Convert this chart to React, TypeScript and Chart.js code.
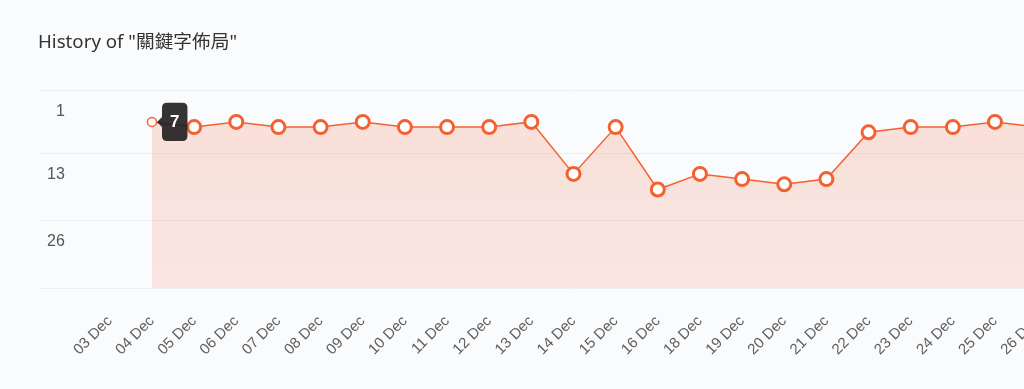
import { useEffect, useRef } from 'react';
import { Chart, registerables } from 'chart.js';

Chart.register(...registerables);

const chartTitle = 'History of "關鍵字佈局"';

const dateLabels: string[] = [
  '03 Dec', '04 Dec', '05 Dec', '06 Dec', '07 Dec', '08 Dec', '09 Dec', '10 Dec',
  '11 Dec', '12 Dec', '13 Dec', '14 Dec', '15 Dec', '16 Dec', '18 Dec', '19 Dec',
  '20 Dec', '21 Dec', '22 Dec', '23 Dec', '24 Dec', '25 Dec', '26 Dec',
];

const rankValues: (number | null)[] = [
  null, 7, 8, 7, 8, 8, 7, 8,
  8, 8, 7, 17, 8, 20, 17, 18,
  19, 18, 9, 8, 8, 7, 8,
];

const yTickValues: number[] = [1, 13, 26, 39];
const yTickLabels: string[] = ['1', '13', '26', ''];

const activeIndex = 1;

const LINE = '#f4602f';
const GRID = '#eceef2';
const BG = '#fafbfd';
const FONT = '"Liberation Sans", Arial, Helvetica, sans-serif';

const CANVAS_W = 1100;
const CANVAS_H = 373;

export default function App() {
  const canvasRef = useRef<HTMLCanvasElement | null>(null);

  useEffect(() => {
    document.body.style.background = BG;
    document.documentElement.style.background = BG;
    document.documentElement.style.overflow = 'hidden';
    const canvas = canvasRef.current;
    if (!canvas) return;

    const chart = new Chart(canvas, {
      type: 'line',
      data: {
        labels: dateLabels,
        datasets: [
          {
            data: rankValues,
            borderColor: LINE,
            borderWidth: 1.5,
            fill: 'start',
            backgroundColor: (c: any) => {
              const area = c.chart.chartArea;
              if (!area) return 'rgba(244,96,47,0.16)';
              const g = c.chart.ctx.createLinearGradient(0, area.top, 0, area.bottom);
              g.addColorStop(0, 'rgba(244,96,47,0.18)');
              g.addColorStop(1, 'rgba(244,96,47,0.13)');
              return g;
            },
            pointBackgroundColor: '#ffffff',
            pointBorderColor: LINE,
            pointRadius: (c: any) => (c.dataIndex === activeIndex ? 4.5 : 6.5),
            pointHoverRadius: (c: any) => (c.dataIndex === activeIndex ? 4.5 : 6.5),
            pointBorderWidth: (c: any) => (c.dataIndex === activeIndex ? 1.5 : 3),
            pointHoverBorderWidth: (c: any) => (c.dataIndex === activeIndex ? 1.5 : 3),
            tension: 0,
            spanGaps: false,
          },
        ],
      },
      options: {
        responsive: false,
        animation: false,
        events: [],
        layout: {
          padding: { left: 30, top: 82.7, right: CANVAS_W - 1029.15, bottom: 0 },
        },
        plugins: {
          legend: { display: false },
          title: { display: false },
          tooltip: {
            enabled: true,
            backgroundColor: 'rgba(30,30,30,0.9)',
            displayColors: false,
            xAlign: 'left',
            yAlign: 'center',
            caretSize: 5,
            caretPadding: 5,
            cornerRadius: 5,
            padding: { top: 9, bottom: 9, left: 8, right: 8 } as any,
            bodyFont: { family: FONT, size: 17, weight: 'bold' },
            bodyColor: '#ffffff',
            callbacks: {
              title: () => '',
              label: (ctx: any) => String(ctx.parsed.y),
            },
          },
        },
        scales: {
          x: {
            type: 'category',
            offset: false,
            grid: { display: false },
            border: { display: false },
            ticks: {
              autoSkip: false,
              minRotation: 45,
              maxRotation: 45,
              padding: 16,
              color: '#5f5f5f',
              font: { family: FONT, size: 15 },
            },
            afterFit: (scale: any) => {
              scale.height = 92.7;
            },
          },
          y: {
            type: 'linear',
            reverse: true,
            min: 1,
            max: 39,
            grid: {
              color: GRID,
              lineWidth: 1,
              drawTicks: true,
              tickLength: 70,
              tickColor: GRID,
            },
            border: { display: false },
            ticks: {
              padding: -25,
              labelOffset: 21,
              color: '#555555',
              font: { family: FONT, size: 16 },
              callback: (value: any) => {
                const i = yTickValues.indexOf(Number(value));
                return i >= 0 ? yTickLabels[i] : '';
              },
            },
            afterBuildTicks: (scale: any) => {
              scale.ticks = yTickValues.map((v) => ({ value: v }));
            },
            afterFit: (scale: any) => {
              scale.width = 71.85;
            },
          },
        },
      },
    });

    chart.tooltip?.setActiveElements([{ datasetIndex: 0, index: activeIndex }], { x: 0, y: 0 });
    chart.update();

    return () => {
      chart.destroy();
    };
  }, []);

  return (
    <div
      style={{
        position: 'fixed',
        left: 8,
        top: 8,
        width: CANVAS_W,
        height: CANVAS_H,
      }}
    >
      <canvas
        ref={canvasRef}
        width={CANVAS_W}
        height={CANVAS_H}
        style={{ display: 'block', width: CANVAS_W, height: CANVAS_H }}
      />
      <div
        style={{
          position: 'absolute',
          left: 30,
          top: 21,
          fontFamily: '"Noto Sans", "Noto Sans CJK TC", sans-serif',
          fontSize: 18.7,
          lineHeight: '24px',
          color: '#333333',
          whiteSpace: 'nowrap',
        }}
      >
        {chartTitle}
      </div>
    </div>
  );
}
